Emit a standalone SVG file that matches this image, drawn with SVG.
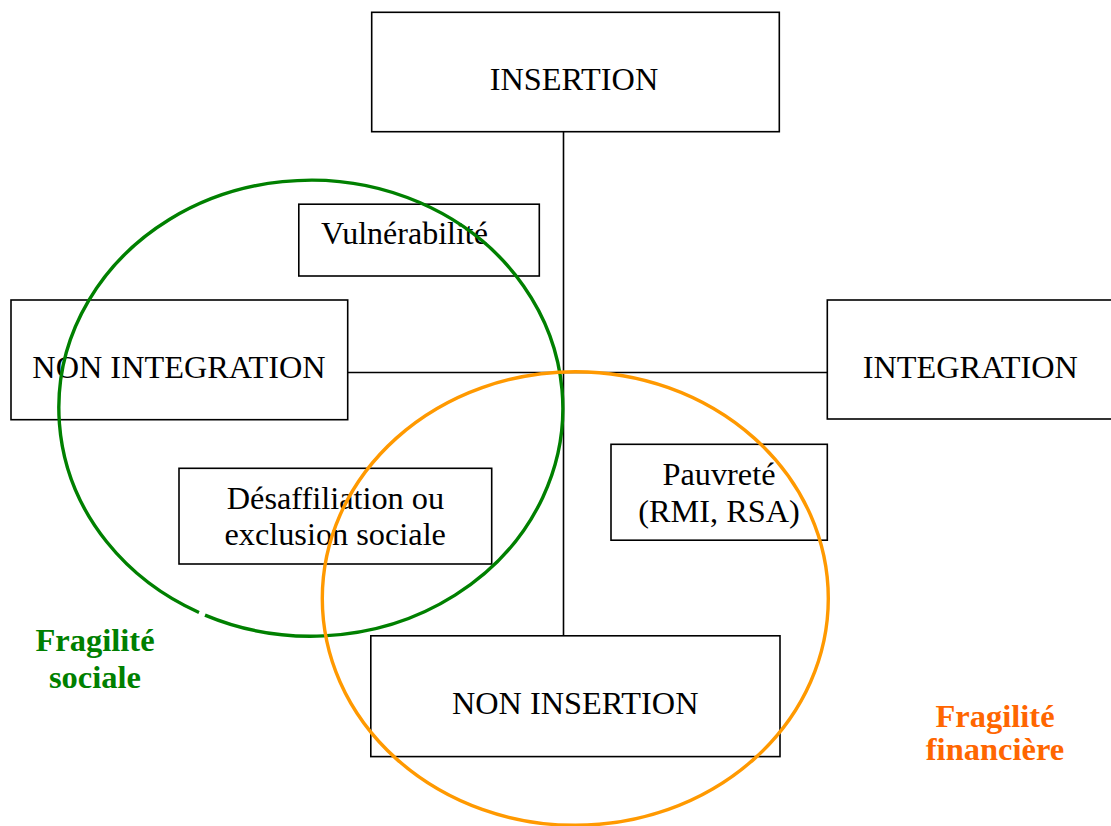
<svg xmlns="http://www.w3.org/2000/svg" width="1111" height="826" viewBox="0 0 1111 826">
<style>
.box{fill:#fff;stroke:#000;stroke-width:1.6}
.t{font-size:32.3px;fill:#000;text-anchor:middle}
.lbl{font-size:32.5px;font-weight:bold;text-anchor:middle}
.conn{stroke:#000;stroke-width:1.6;fill:none}
</style>
<rect width="1111" height="826" fill="#fff"/>
<g id="connectors">
<line class="conn" x1="563.5" y1="131.5" x2="563.5" y2="636"/>
<line class="conn" x1="347.7" y1="372.5" x2="827.3" y2="372.5"/>
</g>
<g font-family="'Liberation Serif', 'Times New Roman', Times, 'DejaVu Serif', serif">
<g id="insertion">
<rect class="box" x="371.7" y="12.3" width="407.6" height="119.4"/>
<text class="t" x="574" y="90">INSERTION</text>
</g>
<g id="vulnerabilite">
<rect class="box" x="298.8" y="204.2" width="240.5" height="71.8"/>
<text class="t" x="321" y="244.3" style="text-anchor:start;font-size:32px">Vulnérabilité</text>
</g>
<g id="non-integration">
<rect class="box" x="11" y="300" width="336.7" height="119.7"/>
<text class="t" x="179" y="377.5">NON INTEGRATION</text>
</g>
<g id="integration">
<rect class="box" x="827.3" y="300" width="290" height="119"/>
<text class="t" x="970.3" y="378.3">INTEGRATION</text>
</g>
<g id="pauvrete">
<rect class="box" x="611" y="444.3" width="216.3" height="95.9"/>
<text class="t" x="719" y="485">Pauvreté</text>
<text class="t" x="719" y="522.3">(RMI, RSA)</text>
</g>
<g id="desaffiliation">
<rect class="box" x="179" y="468.3" width="312.7" height="95.7"/>
<text class="t" x="335.4" y="509.3">Désaffiliation ou</text>
<text class="t" x="335.2" y="545">exclusion sociale</text>
</g>
<g id="non-insertion">
<rect class="box" x="370.8" y="635.8" width="409.2" height="120.8"/>
<text class="t" x="575.2" y="714">NON INSERTION</text>
</g>
<g id="fragilite-sociale">
<path d="M 205 615.1 A 252 228 0 1 0 199 612.5" fill="none" stroke="#008000" stroke-width="3.4"/>
<text class="lbl" fill="#008000" x="95" y="650.7">Fragilité</text>
<text class="lbl" fill="#008000" x="95" y="688">sociale</text>
</g>
<g id="fragilite-financiere">
<ellipse cx="575.3" cy="598.5" rx="253" ry="226.8" fill="none" stroke="#FF9900" stroke-width="3.4"/>
<text class="lbl" fill="#FF6600" x="995" y="726.7">Fragilité</text>
<text class="lbl" fill="#FF6600" x="995" y="760">financière</text>
</g>
</g>
</svg>
